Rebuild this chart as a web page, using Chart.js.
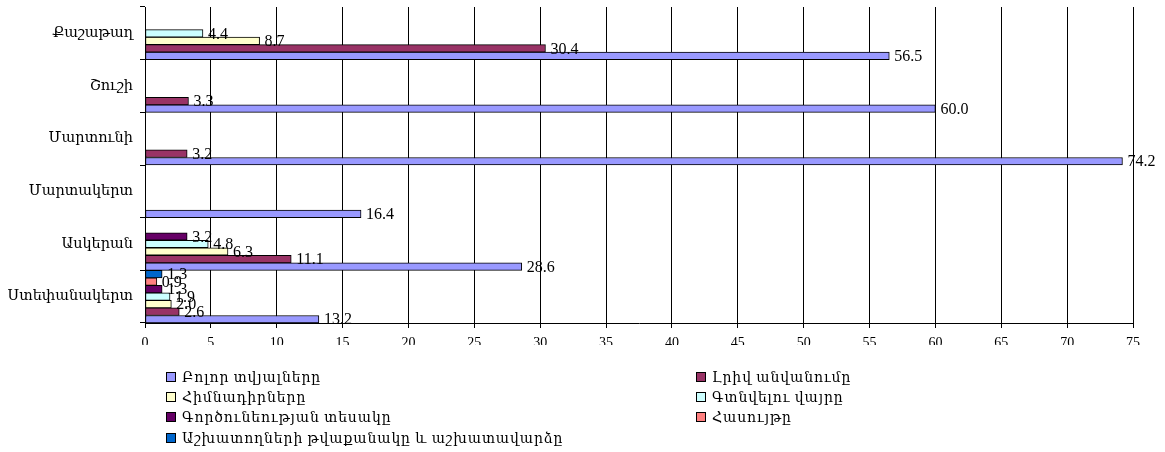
<!DOCTYPE html>
<html>
<head>
<meta charset="utf-8">
<script src="https://cdn.jsdelivr.net/npm/chart.js@4/dist/chart.umd.min.js"></script>
<style>
  html, body { margin: 0; padding: 0; background: #fff; }
  #wrap { position: relative; width: 1165px; height: 452px; overflow: hidden; }
  #c { position: absolute; left: 0; top: 0; }
  .lg { position: absolute; font-family: "Liberation Serif", "DejaVu Serif", serif; font-size: 14px; letter-spacing: 0.9px; color: #000; white-space: nowrap; line-height: 16px; }
  .lg span.sw { display: inline-block; width: 8px; height: 8px; border: 1px solid #000; margin-right: 6px; vertical-align: 0px; }
</style>
</head>
<body>
<div id="wrap">
  <canvas id="c" width="1165" height="452"></canvas>
  <div id="legend"></div>
</div>
<script>
// Categories (top to bottom)
const categories = ["Քաշաթաղ", "Շուշի", "Մարտունի", "Մարտակերտ", "Ասկերան", "Ստեփանակերտ"];

// Series names (legend order)
const seriesNames = [
  "Բոլոր տվյալները",
  "Լրիվ անվանումը",
  "Հիմնադիրները",
  "Գտնվելու վայրը",
  "Գործունեության տեսակը",
  "Հասույթը",
  "Աշխատողների թվաքանակը և աշխատավարձը"
];

// Series values (per category, same order as categories)
const allData      = [56.5, 60.0, 74.2, 16.4, 28.6, 13.2];
const fullName     = [30.4, 3.3, 3.2, null, 11.1, 2.6];
const founders     = [8.7, null, null, null, 6.3, 2.0];
const placeLoc     = [4.4, null, null, null, 4.8, 1.9];
const activityType = [null, null, null, null, 3.2, 1.3];
const revenue      = [null, null, null, null, null, 0.9];
const employees    = [null, null, null, null, null, 1.3];

// X axis ticks
const xTicks = [0, 5, 10, 15, 20, 25, 30, 35, 40, 45, 50, 55, 60, 65, 70, 75];

const colors = ["#9999FF", "#993366", "#FFFFCC", "#CCFFFF", "#660066", "#FF8080", "#0066CC"];
const seriesData = [allData, fullName, founders, placeLoc, activityType, revenue, employees];

// Excel draws first series at bottom of each group: reverse for Chart.js
const datasets = [];
for (let i = seriesData.length - 1; i >= 0; i--) {
  datasets.push({
    label: seriesNames[i],
    data: seriesData[i],
    backgroundColor: colors[i],
    borderColor: "#000",
    borderWidth: 1,
    borderSkipped: false,
    categoryPercentage: 1.0,
    barPercentage: 1.0
  });
}

const FONT = '"Liberation Serif", "DejaVu Serif", serif';

const labelPlugin = {
  id: "valueLabels",
  afterDatasetsDraw(chart) {
    const ctx = chart.ctx;
    ctx.save();
    ctx.font = "16px " + FONT;
    ctx.fillStyle = "#000";
    ctx.textBaseline = "middle";
    ctx.textAlign = "left";
    chart.data.datasets.forEach((ds, di) => {
      const meta = chart.getDatasetMeta(di);
      meta.data.forEach((el, i) => {
        const v = ds.data[i];
        if (v === null || v === undefined) return;
        ctx.fillText(v.toFixed(1), el.x + 5, el.y + 1);
      });
    });
    ctx.restore();
  }
};

new Chart(document.getElementById("c"), {
  type: "bar",
  data: { labels: categories, datasets: datasets },
  options: {
    indexAxis: "y",
    responsive: false,
    animation: false,
    events: [],
    layout: { padding: { left: 0, right: 32, top: 7, bottom: 107 } },
    plugins: { legend: { display: false }, tooltip: { enabled: false } },
    scales: {
      x: {
        type: "linear",
        min: 0,
        max: 75,
        afterBuildTicks(scale) { scale.ticks = xTicks.map(v => ({ value: v })); },
        afterFit(scale) { scale.height = 22; scale.paddingLeft = 0; scale.paddingRight = 0; },
        grid: { color: "#000", lineWidth: 1, drawTicks: true, tickLength: 5, tickColor: "#000" },
        border: { display: true, color: "#000", width: 1 },
        ticks: { color: "#000", font: { family: FONT, size: 14 }, padding: 7, maxRotation: 0, autoSkip: false }
      },
      y: {
        type: "category",
        afterFit(scale) { scale.width = 145; scale.paddingTop = 0; scale.paddingBottom = 0; },
        grid: { drawOnChartArea: false, drawTicks: true, tickLength: 5, tickColor: "#000", offset: true },
        border: { display: true, color: "#000", width: 1 },
        ticks: { color: "#000", font: { family: FONT, size: 14.5 }, padding: 7 }
      }
    }
  },
  plugins: [labelPlugin]
});

// HTML legend: two columns, row-major order like the reference
const legend = document.getElementById("legend");
const colX = [166, 696];
const rowY = [370, 390, 410, 431];
seriesNames.forEach((name, i) => {
  const d = document.createElement("div");
  d.className = "lg";
  d.style.left = colX[i % 2] + "px";
  d.style.top = rowY[Math.floor(i / 2)] + "px";
  const sw = document.createElement("span");
  sw.className = "sw";
  sw.style.background = colors[i];
  d.appendChild(sw);
  d.appendChild(document.createTextNode(name));
  legend.appendChild(d);
});
</script>
</body>
</html>
